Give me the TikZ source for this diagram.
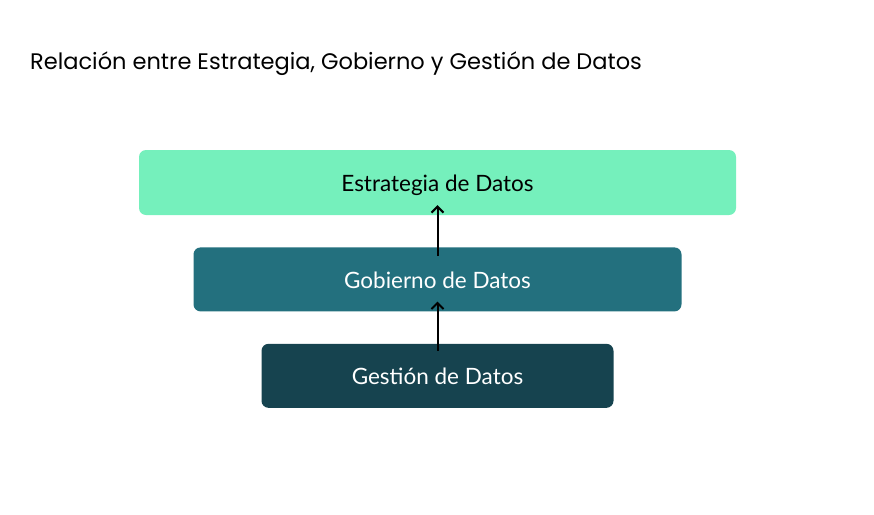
\documentclass[tikz,border=0pt]{standalone}
\usepackage{fontspec}
\setmainfont{Lato}
\newfontfamily\titlefont{Poppins}
\usepackage{tikz}
\usetikzlibrary{positioning,arrows.meta}
\definecolor{estrcol}{HTML}{75F0BC}
\definecolor{gobcol}{HTML}{23707E}
\definecolor{gestcol}{HTML}{16434F}

\begin{document}
\begin{tikzpicture}[
  x=1pt, y=-1pt,
  node distance=32pt,
  layer/.style={rounded corners=7pt, minimum height=64pt, inner sep=0pt,
                text height=19pt, text depth=1pt,
                align=center, font=\fontsize{22.5}{26}\selectfont},
  >={Straight Barb[length=6pt,width=12pt]}
]
\useasboundingbox (0,0) rectangle (874,514);
\node[anchor=base west, inner sep=0pt, font=\titlefont\fontsize{22.5}{26}\selectfont] (title) at (30,69)
  {Relación entre Estrategia, Gobierno y Gestión de Datos};

\node[layer, fill=estrcol, text=black, minimum width=597pt, minimum height=65pt] (estr) at (437.5,182.5) {Estrategia de Datos};
\node[layer, fill=gobcol, text=white, minimum width=488pt, below=of estr] (gob) {Gobierno de Datos};
\node[layer, fill=gestcol, text=white, minimum width=352pt, below=of gob] (gest) {Gestión de Datos};

\draw[->, line width=2pt] ([yshift=-7pt]gest.north) -- ([yshift=10pt]gob.south);
\draw[->, line width=2pt] ([yshift=-9pt]gob.north) -- ([yshift=10pt]estr.south);
\end{tikzpicture}
\end{document}
